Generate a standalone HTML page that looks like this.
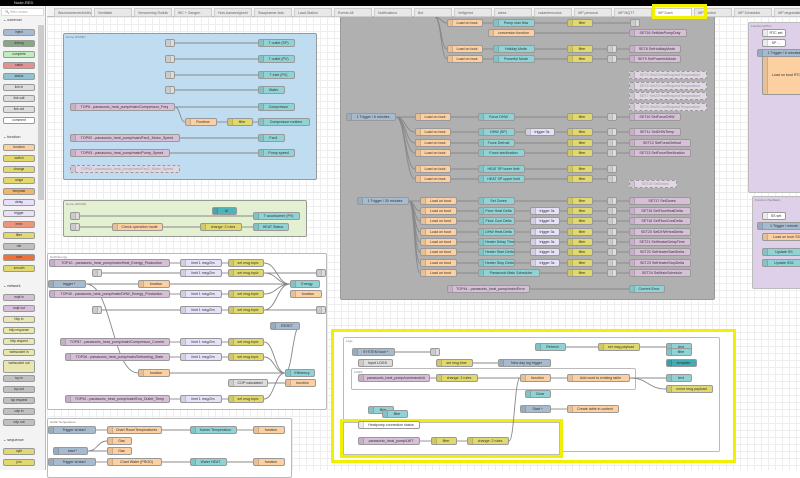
<!DOCTYPE html>
<html><head><meta charset="utf-8">
<style>
*{margin:0;padding:0;box-sizing:border-box}
body{width:800px;height:470px;overflow:hidden;background:#fff;font-family:"Liberation Sans",sans-serif;position:relative}
#hdr{position:absolute;left:0;top:0;width:800px;height:6px;background:#000;z-index:10}
#hdr span{position:absolute;left:14px;top:0;color:#ddd;font-size:4px;line-height:6px}
#tabs{position:absolute;left:47px;top:6px;width:753px;height:11px;background:#f3f3f3;border-bottom:1px solid #bbb;z-index:10}
.tab{position:absolute;top:2px;height:9px;background:#e8e8e8;border:1px solid #ccc;font-size:3.5px;line-height:8px;padding-left:3px;color:#666;white-space:nowrap;overflow:hidden}
#side{position:absolute;left:0;top:6px;width:46px;height:464px;background:#f3f3f3;border-right:1px solid #bbb;z-index:10}
#canvas{position:absolute;left:47px;top:17px;width:753px;height:453px;background-color:#fff;
background-image:linear-gradient(#eee 1px,transparent 1px),linear-gradient(90deg,#eee 1px,transparent 1px);background-size:7px 7px}
.g{position:absolute;border:1px solid #999;border-radius:2px}
.gl{position:absolute;left:2px;top:1px;font-size:3px;color:#777;white-space:nowrap}
.n{position:absolute;height:8px;border:1px solid #999;border-radius:2px;font-size:3.6px;line-height:6px;color:#333;white-space:nowrap;overflow:hidden;text-align:center;padding:0 2px 0 6px}
.n i{position:absolute;left:0;top:0;width:5px;height:100%;background:rgba(0,0,0,.08);border-right:1px solid rgba(0,0,0,.1)}
.pn{position:absolute;height:7px;border:1px solid #999;border-radius:2px;font-size:3.3px;line-height:5px;color:#333;text-align:center;white-space:nowrap;overflow:hidden}
.cat{position:absolute;left:3px;font-size:3.8px;color:#333}
.y{position:absolute;border:3px solid #f0f000}
#wires{position:absolute;left:0;top:0}
#glayer,#layer{position:absolute;left:0;top:0}
</style></head><body>
<div id="canvas"></div>
<div id="glayer"></div>
<svg id="wires" width="800" height="470"></svg>
<div id="layer"></div>
<div id="side">
 <div style="position:absolute;left:1px;top:2px;width:43px;height:8px;background:#fff;border:1px solid #ddd;font-size:3.5px;line-height:7px;color:#aaa;padding-left:3px">🔍 filter nodes</div>
 <div style="position:absolute;left:38px;top:19px;width:6px;height:175px;background:#ccc"></div>
</div>
<div id="hdr"><span>Node-RED</span></div>
<div id="tabs"></div>
<div class="y" style="left:652px;top:4px;width:55px;height:15px;z-index:11"></div>
<script>
var L=document.getElementById('layer'),G=document.getElementById('glayer');
function el(h){L.insertAdjacentHTML('beforeend',h)}
function gel(h){G.insertAdjacentHTML('beforeend',h)}
function grp(x,y,w,h,bg,lab,bc){gel('<div class="g" style="left:'+x+'px;top:'+y+'px;width:'+w+'px;height:'+h+'px;background:'+bg+';border-color:'+(bc||'#999')+'"><span class="gl">'+lab+'</span></div>')}
grp(340,0,375,300,'#b0b0b0','','#999');
grp(63,33,254,147,'#bfdcf0','Home (PUMP)');
grp(63,200,244,37,'#e3f0d1','Home (ROOM)');
grp(47,253,280,157,'#fff','Graft Energy','#bbb');
grp(47,418,245,60,'#fff','Grafic Temperature','#bbb');
grp(748,22,60,171,'#ddd0e8','Function (RTC)','#bbb');
grp(752,196,60,93,'#ddd0e8','Function (SetMain)','#bbb');
gel('<div class="y" style="left:331px;top:329px;width:405px;height:134px;background:#fff"></div>');
grp(343,337,377,115,'transparent','Logs','#bbb');
grp(351,368,285,22,'transparent','LOGS','#bbb');
gel('<div class="y" style="left:340px;top:419px;width:223px;height:39px;background:#fff"></div>');
gel('<div style="position:absolute;left:343px;top:422px;width:217px;height:33px;border:1px solid #bbb"></div>');
var tabs=["Woonkamerverlichting","Ventilatie","Verwarming Rolluik","WC + Gangen","Huis Aanwezigheid","Slaapkamer kids","Laad-Station","Events All","Notifications","Bot","Veiligheid","alexa","vakantiemodus","WP personal","WP MQTT","WP Dash","WP Control","WP Scheduler","WP degradatie"];
var T=document.getElementById('tabs');
tabs.forEach(function(t,i){T.insertAdjacentHTML('beforeend','<div class="tab" style="left:'+(7+i*40)+'px;width:38px;'+(t=="WP Dash"?'background:#fff':'')+'">'+t+'</div>')});
var S=document.getElementById('side');
function pc(y,t){S.insertAdjacentHTML('beforeend','<div class="cat" style="top:'+(y-9)+'px">⌄ '+t+'</div>')}
function pn(y,t,c,h){S.insertAdjacentHTML('beforeend','<div class="pn" style="left:3px;top:'+(y-9)+'px;width:32px;background:'+c+';'+(h?'height:'+h+'px':'')+'">'+t+'</div>')}
pc(20,'common');
[["inject","#a6bbcf"],["debug","#87a980"],["complete","#c0edc0"],["catch","#e49191"],["status","#94c1d0"],["link in","#ddd"],["link call","#ddd"],["link out","#ddd"],["comment","#fff"]].forEach(function(a,i){pn(32+i*11,a[0],a[1])});
pc(137,'function');
[["function","#fdd0a2"],["switch","#e2d96e"],["change","#e2d96e"],["range","#e2d96e"],["template","#f3b567"],["delay","#e6e0f8"],["trigger","#e6e0f8"],["exec","#e9967a"],["filter","#e2d96e"],["rbe","#c0c0c0"],["sort","#f07038"],["smooth","#e2d96e"]].forEach(function(a,i){pn(147+i*11,a[0],a[1])});
pc(286,'network');
[["mqtt in","#d8bfd8"],["mqtt out","#d8bfd8"],["http in","#e7e7ae"],["http response","#e7e7ae"],["http request","#e7e7ae"],["websocket in","#e7e7ae"]].forEach(function(a,i){pn(297+i*11,a[0],a[1])});
pn(363,"websocket out","#e7e7ae",13);
[["tcp in","#c0c0c0"],["tcp out","#c0c0c0"],["tcp request","#c0c0c0"],["udp in","#c0c0c0"],["udp out","#c0c0c0"]].forEach(function(a,i){pn(378+i*11,a[0],a[1])});
pc(440,'sequence');pn(451,"split","#e2d96e");pn(462,"join","#e2d96e");
var CO={i:"#a6bbcf",f:"#fdd0a2",c:"#e2d96e",m:"#d8bfd8",u:"#8fd3d6",l:"#ddd",d:"#e6e0f8",w:"#fff",t:"#3fadb5",gm:"#e0d6e4"};
function n(x,y,w,t,k,ex){var c=CO[k]||k;el('<div class="n" style="left:'+x+'px;top:'+(y-4)+'px;width:'+w+'px;background:'+c+';'+(k=='gm'?'border-style:dashed;color:#999;':'')+(ex||'')+'"><i></i>'+t+'</div>')}
var W=[];function wr(x1,y1,x2,y2){W.push([x1,y1,x2,y2])}
function row(y,list){for(var j=0;j<list.length;j++){var a=list[j];n(a[0],y,a[1],a[2],a[3]);if(j>0){var p=list[j-1];wr(p[0]+p[1],y,a[0],y)}}}
[43,59,75,90].forEach(function(y,i){row(y,[[165,8,"","l"],[258,i==3?27:37,["T outlet (SP)","T outlet (PV)","T inlet (PV)","Water"][i],"u"]])});
row(107,[[70,105,"TOP5 - panasonic_heat_pump/main/Compressor_Freq","m"],[258,37,"Compressor","u"]]);
row(122,[[185,32,"Runtime","f"],[227,26,"filter","c"],[258,52,"Compressor runtime","u"]]);wr(175,107,185,122);
row(138,[[70,110,"TOP92 - panasonic_heat_pump/main/Fan1_Motor_Speed","m"],[258,27,"Fan1","u"]]);
row(153,[[70,100,"TOP93 - panasonic_heat_pump/main/Pump_Speed","m"],[258,37,"Pump speed","u"]]);
n(70,169,110,"TOP93 - panasonic_heat_pump/main/Fan2_Motor_Speed","gm");
n(212,211,25,"UI","#4fb4b8");
row(216,[[70,8,"","l"],[253,47,"T woonkamer (PV)","u"]]);
row(227,[[70,8,"","l"],[112,51,"Check operation mode","f"],[200,42,"change: 2 rules","c"],[253,36,"HEAT Status","u"]]);
row(23,[[447,36,"Load on boot","f"],[493,42,"Pump max flow","u"],[567,26,"filter","c"],[630,6,"","l"]]);
row(33,[[488,47,"conversion function","f"],[629,58,"SET16 SetMaxPumpDuty","m"]]);
row(49,[[447,36,"Load on boot","f"],[493,42,"Holiday Mode","u"],[567,26,"filter","c"],[607,6,"","l"],[629,52,"SET8 SetHolidayMode","m"]]);
row(59,[[447,36,"Load on boot","f"],[493,42,"Powerful Mode","u"],[567,26,"filter","c"],[607,6,"","l"],[629,52,"SET9 SetPowerfulMode","m"]]);
wr(435,17,447,23);wr(435,17,447,49);wr(435,17,447,59);
["SET5 SetZ1HeatRequestTemperature","SET6 SetZ1CoolRequestTemperature","SET7 SetZ2HeatRequestTemperature","SET8 SetZ2CoolRequestTemperature"].forEach(function(t,i){n(629,75+i*10.5,78,t,"gm")});
n(346,117,50,"1 Trigger / 6 minutes","i");
[[117,"Force DHW","SET10 SetForceDHW",0],[132,"DHW (SP)","SET11 SetDHWTemp",1],[143,"Force Defrost","SET12 SetForceDefrost",0],[153,"Force sterilization","SET13 SetForceSterilization",0],[169,"HEAT SP lower limit","",0],[179,"HEAT SP upper limit","",0]].forEach(function(r){
 var L2=[[415,36,"Load on boot","f"],[478,r[1].length>15?47:37,r[1],"u"]];if(r[3])L2.push([525,30,"trigger 3s","d"]);L2.push([567,26,"filter","c"],[607,6,"","l"]);if(r[2])L2.push([629,r[2].length>20?62:52,r[2],"m"]);row(r[0],L2);wr(396,117,415,r[0]);});
n(629,184,48,"SET18 SetZones","gm");
n(357,201,52,"1 Trigger / 30 minutes","i");
[[201,"Set Zones","SET17 SetZones",0],[211,"Floor Heat Delta","SET15 SetFloorHeatDelta",1],[221,"Floor Cool Delta","SET16 SetFloorCoolDelta",1],[232,"DHW Heat Delta","SET20 SetDHWHeatDelta",1],[242,"Heater Delay Time","SET21 SetHeaterDelayTime",1],[252,"Heater Start Delta","SET22 SetHeaterStartDelta",1],[263,"Heater Stop Delta","SET23 SetHeaterStopDelta",1],[273,"Panasonic Main Scheduler","SET24 SetMainSchedule",0]].forEach(function(r){
 var L2=[[420,37,"Load on boot","f"],[478,r[1].length>18?62:37,r[1],"u"]];if(r[3])L2.push([530,30,"trigger 3s","d"]);L2.push([567,26,"filter","c"],[607,6,"","l"]);L2.push([629,62,r[2],"m"]);row(r[0],L2);wr(409,201,420,r[0]);});
row(289,[[447,83,"TOP44 - panasonic_heat_pump/main/Error","m"],[629,36,"Current Error","u"]]);
n(762,33,24,"RTC set","w");n(762,43,24,"SP ...","w");n(757,53,50,"1 Trigger / 6 minutes","i");
el('<div class="n" style="left:762px;top:56px;width:45px;height:39px;background:#fdd0a2;line-height:37px"><i></i>Load on boot RTC</div>');
n(762,216,24,"SS set","w");n(757,226,50,"1 Trigger / minute","i");n(762,237,45,"Load on boot SS","f");n(762,252,40,"Update SS","u");n(762,263,40,"Update SS2","u");
row(263,[[49,121,"TOP10 - panasonic_heat_pump/main/Heat_Energy_Production","m"],[180,42,"limit 1 msg/2m","d"],[228,36,"set msg.topic","c"]]);
row(273,[[92,6,"","l"],[180,42,"limit 1 msg/2m","d"],[228,36,"set msg.topic","c"],[316,5,"","l"]]);
row(284,[[48,38,"trigger *","i"],[138,32,"function","f"],[290,30,"Energy","u"]]);
n(290,294,32,"function","f");
row(294,[[49,121,"TOP40 - panasonic_heat_pump/main/DHW_Energy_Production","m"],[180,42,"limit 1 msg/2m","d"],[228,36,"set msg.topic","c"]]);wr(264,294,290,284);wr(264,263,290,284);wr(264,273,290,284);wr(264,310,290,284);
row(310,[[92,6,"","l"],[180,42,"limit 1 msg/2m","d"],[228,36,"set msg.topic","c"],[316,5,"","l"]]);
n(270,326,30,"RESET","i");
row(342,[[60,110,"TOP87 - panasonic_heat_pump/main/Compressor_Current","m"],[180,42,"limit 1 msg/2m","d"],[228,36,"set msg.topic","c"]]);
row(357,[[65,105,"TOP26 - panasonic_heat_pump/main/Defrosting_State","m"],[180,42,"limit 1 msg/2m","d"],[228,36,"set msg.topic","c"]]);
row(373,[[138,32,"function","f"],[285,30,"Efficiency","u"]]);
row(383,[[228,40,"COP calculated","l"],[285,31,"function","f"]]);
row(399,[[65,105,"TOP92 - panasonic_heat_pump/main/Eva_Outlet_Temp","m"],[180,42,"limit 1 msg/2m","d"],[228,36,"set msg.topic","c"]]);
wr(86,284,138,373);wr(264,342,285,373);wr(264,357,285,373);wr(264,399,285,373);wr(300,326,285,373);
row(430,[[48,48,"Trigger at start","i"],[107,55,"Chart RoomTemperatures","f"],[190,47,"Kamer Temperatuur","u"],[253,32,"function","f"]]);
n(107,441,25,"Gas","f");row(451,[[53,35,"start *","i"],[107,25,"Gas","f"]]);wr(88,451,107,441);
row(462,[[48,48,"Trigger at start","i"],[107,55,"Chart Water (PROD)","f"],[190,37,"Water HEAT","u"],[253,32,"function","f"]]);
row(347,[[535,31,"Refresh","u"],[598,42,"set msg.payload","c"],[666,26,"text","u"]]);
n(352,352,43,"SYSTEM boot *","i");wr(395,352,430,352);n(430,352,6,"","l");
n(358,363,35,"Input LOGS","l");row(363,[[436,37,"set msg.time","c"],[520,31,"function","f"]]);n(498,363,53,"New day log trigger","i");
n(666,352,26,"filter","u");n(666,363,31,"template","#3fadb5");
row(378,[[358,72,"panasonic_heat_pump/commands/#","m"],[436,42,"change: 2 rules","c"],[520,31,"function","f"],[567,63,"Add word to existing table","f"],[666,26,"text","u"]]);
n(666,389,47,"move msg.payload","c");wr(630,378,666,389);
n(525,394,26,"Clear","u");row(409,[[520,31,"Start *","i"],[567,52,"Create table in context","f"]]);
n(368,410,26,"filter","u");n(382,414,26,"filter","u");
n(358,425,62,"Heatpump connection status","w");
row(441,[[358,62,"panasonic_heat_pump/LWT","m"],[431,26,"filter","c"],[467,42,"change: 2 rules","c"]]);wr(509,441,520,378);
var s='';W.forEach(function(a){var mx=(a[0]+a[2])/2;s+='<path d="M'+a[0]+' '+a[1]+' C'+mx+' '+a[1]+' '+mx+' '+a[3]+' '+a[2]+' '+a[3]+'" stroke="#888" stroke-width="0.9" fill="none"/>'});
document.getElementById('wires').innerHTML=s;
</script>
</body></html>
